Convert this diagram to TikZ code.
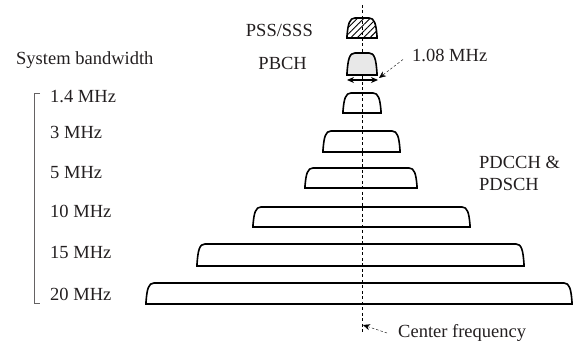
\documentclass[tikz,border=0pt]{standalone}
\usepackage{fontspec}
\setmainfont{Liberation Serif}
\usepackage{xcolor}
\usepackage{tikz}
\usetikzlibrary{positioning,patterns.meta,arrows.meta}
\definecolor{ink}{HTML}{231F20}
\newcommand{\bandpath}[4]{(#1,#4) -- (#1,{#4-2}) .. controls ({#1+1},{#3+6}) and ({#1+2.5},#3) .. ({#1+8},#3) -- ({#2-8},#3) .. controls ({#2-2.5},#3) and ({#2-1},{#3+6}) .. (#2,{#4-2}) -- (#2,#4) -- cycle}

\begin{document}
\begin{tikzpicture}[x=1pt, y=-1pt,
  lbl/.style={font=\fontsize{18.5}{22}\selectfont, text=ink, inner sep=1pt},
  band/.style={draw=black, line width=1.6pt},
  guide/.style={-{Stealth[length=7pt,width=6pt]}, thin, dash pattern=on 2.5pt off 2pt}]
\useasboundingbox (0,0) rectangle (574,344);
% center frequency line
\coordinate (ctop) at (362,5);
\coordinate (cbot) at (362,333);
\draw[thin, dash pattern=on 3pt off 2.5pt] (ctop) -- (cbot);
% synchronisation and broadcast blocks
\filldraw[band, pattern={Lines[angle=45,distance=4.5pt,line width=0.9pt]}] \bandpath{347}{377}{18}{38};
\filldraw[band, fill=black!9] \bandpath{347}{377}{53}{75};
% data channel bands
\foreach \l/\r/\t/\b in {343/381/93/113, 323/400/131/152, 305/417/168/188, 253/470/207/227, 197/524/244/266, 146/572/283/304}
  \draw[band] \bandpath{\l}{\r}{\t}{\b};
% 1.08 MHz width marker
\coordinate (wl) at (347,80);
\coordinate (wr) at (378,80);
\draw[{Stealth[length=7pt,width=6pt]}-{Stealth[length=7pt,width=6pt]}, line width=1.1pt] (wl) -- (wr);
% labels
\node[lbl, anchor=west] (sysbw) at (15,60) {System bandwidth};
\draw[ink!70, line width=0.8pt] (40,93) -- (34,93) -- (34,303) -- (40,303);
\foreach \txt/\y [count=\i] in {1.4 MHz/97, 3 MHz/132, 5 MHz/173, 10 MHz/211, 15 MHz/252, 20 MHz/294}
  \node[lbl, anchor=west] (bw\i) at (49,\y) {\txt};
\node[lbl, anchor=east] (pss) at (314,30) {PSS/SSS};
\node[lbl, anchor=east] (pbch) at (308,63) {PBCH};
\node[lbl, anchor=west] (width) at (411,55) {1.08 MHz};
\node[lbl, anchor=west, align=left] (pdsch) at (478,173) {PDCCH \&\\PDSCH};
\node[lbl, anchor=west] (center) at (397,333) {Center frequency};
% pointers
\coordinate (wtip) at (379,78);
\coordinate (ctip) at (363,325);
\draw[guide] ([xshift=-8pt,yshift=3pt]width.south west) -- (wtip);
\draw[guide] ([xshift=-10pt]center.west) -- (ctip);
\end{tikzpicture}
\end{document}
